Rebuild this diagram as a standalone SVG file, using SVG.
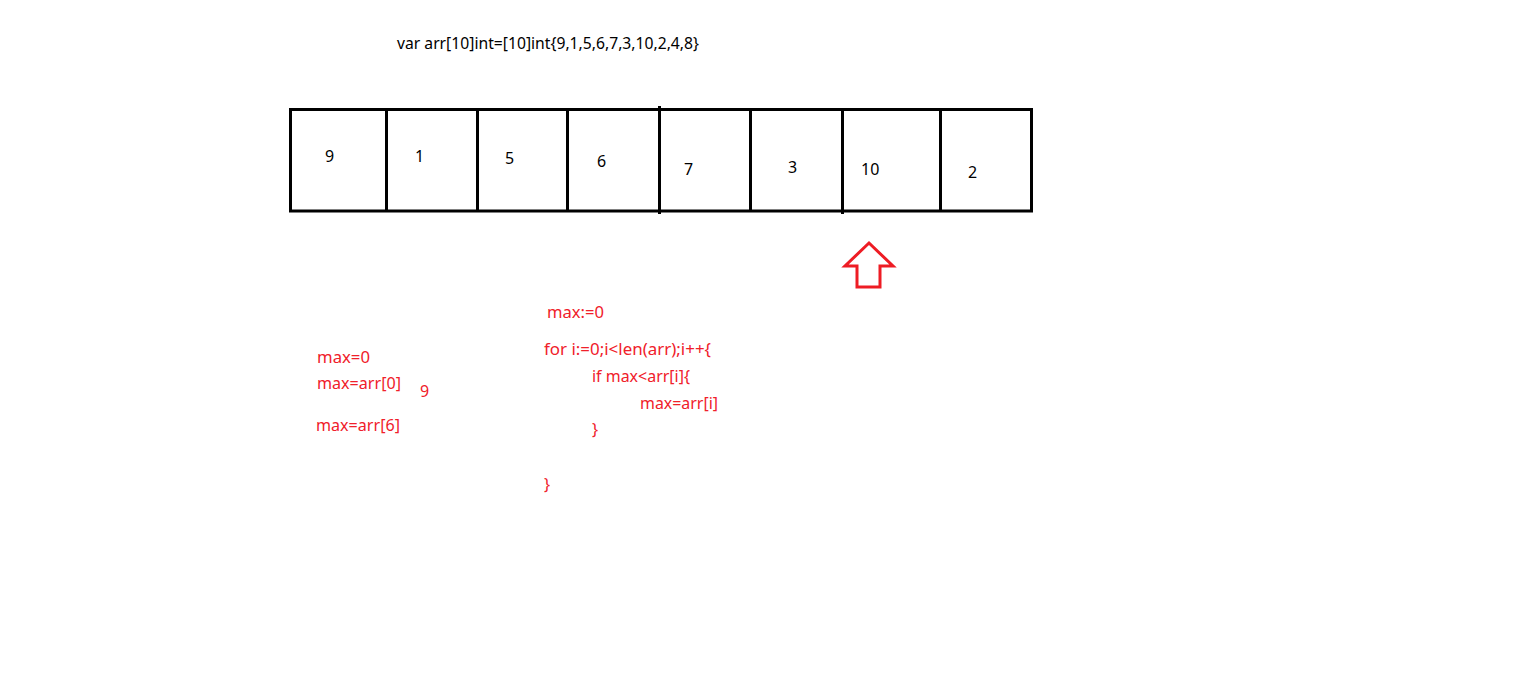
<svg xmlns="http://www.w3.org/2000/svg" width="1532" height="699" viewBox="0 0 1532 699">
<style>
text{font-family:"Noto Sans","Liberation Sans",sans-serif;font-size:16px}
.k{fill:#000}
.r{fill:#f0202a}
.cell{fill:none;stroke:#000;stroke-width:3}
</style>
<rect width="1532" height="699" fill="#fff"/>
<text class="k" x="397" y="49" textLength="302" lengthAdjust="spacingAndGlyphs">var arr[10]int=[10]int{9,1,5,6,7,3,10,2,4,8}</text>
<g id="array">
<rect class="cell" x="290.5" y="109.5" width="741" height="101.5"/>
<line class="cell" x1="386.5" y1="109" x2="386.5" y2="212"/>
<line class="cell" x1="477.5" y1="109" x2="477.5" y2="212"/>
<line class="cell" x1="567.5" y1="109" x2="567.5" y2="212"/>
<line class="cell" x1="659.5" y1="106" x2="659.5" y2="214"/>
<line class="cell" x1="750.5" y1="109" x2="750.5" y2="212"/>
<line class="cell" x1="842.5" y1="109" x2="842.5" y2="214"/>
<line class="cell" x1="940.5" y1="109" x2="940.5" y2="212"/>
</g>
<g id="values">
<text class="k" x="325" y="162">9</text>
<text class="k" x="415" y="162">1</text>
<text class="k" x="505" y="164">5</text>
<text class="k" x="597" y="167">6</text>
<text class="k" x="684" y="175">7</text>
<text class="k" x="788" y="173">3</text>
<text class="k" x="861" y="175">10</text>
<text class="k" x="968" y="178">2</text>
</g>
<g id="arrow">
<polygon points="869,243 845,266 857,266 857,287 880,287 880,266 893,266" fill="none" stroke="#ee1c24" stroke-width="3"/>
</g>
<g id="left-notes">
<text class="r" x="317" y="363" textLength="53" lengthAdjust="spacingAndGlyphs">max=0</text>
<text class="r" x="317" y="389" textLength="84" lengthAdjust="spacingAndGlyphs">max=arr[0]</text>
<text class="r" x="420" y="397">9</text>
<text class="r" x="316" y="431" textLength="84" lengthAdjust="spacingAndGlyphs">max=arr[6]</text>
</g>
<g id="code">
<text class="r" x="547" y="318" textLength="57" lengthAdjust="spacingAndGlyphs">max:=0</text>
<text class="r" x="544" y="355" textLength="167" lengthAdjust="spacingAndGlyphs">for i:=0;i&lt;len(arr);i++{</text>
<text class="r" x="592" y="382" textLength="98" lengthAdjust="spacingAndGlyphs">if max&lt;arr[i]{</text>
<text class="r" x="640" y="409" textLength="78" lengthAdjust="spacingAndGlyphs">max=arr[i]</text>
<text class="r" x="592" y="435">}</text>
<text class="r" x="544" y="490">}</text>
</g>
</svg>
